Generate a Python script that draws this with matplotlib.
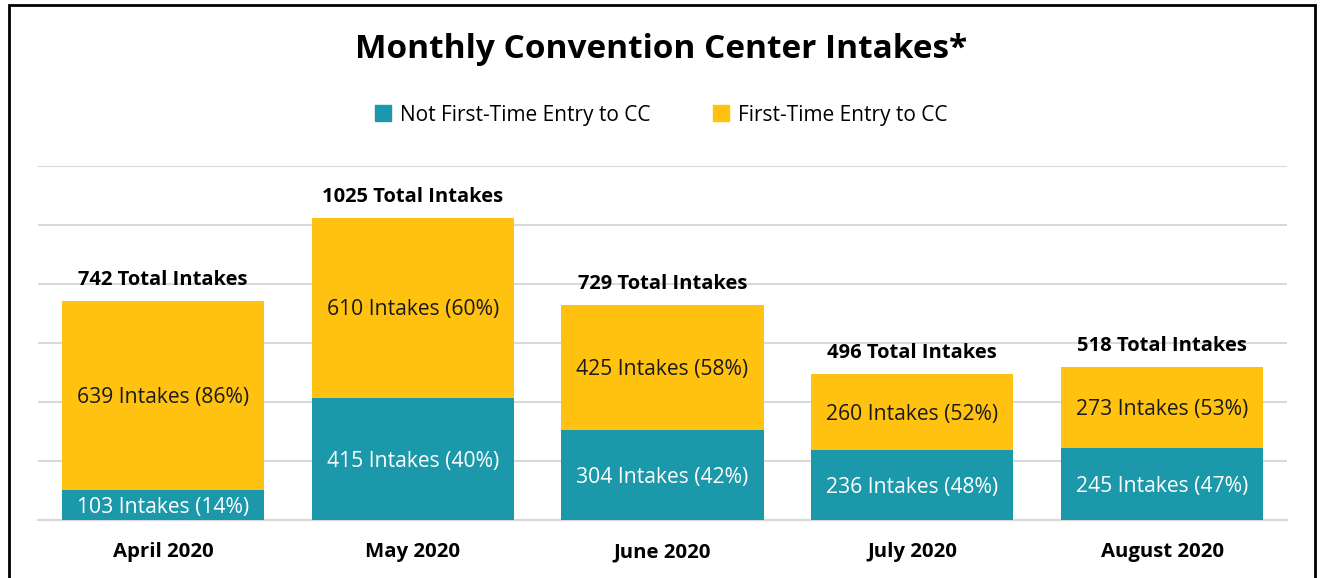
import matplotlib
matplotlib.use('Agg')
import matplotlib.pyplot as plt
from matplotlib.patches import Rectangle, Patch
import numpy as np

plt.rcParams['font.family'] = ['Open Sans', 'DejaVu Sans']

# data
months = ['April 2020', 'May 2020', 'June 2020', 'July 2020', 'August 2020']
not_first = [103, 415, 304, 236, 245]
first_time = [639, 610, 425, 260, 273]
not_first_pct = [14, 40, 42, 48, 47]
first_pct = [86, 60, 58, 52, 53]
totals = [742, 1025, 729, 496, 518]

teal = '#1b98a9'
yellow = '#ffc211'

W, H = 1322, 578
fig = plt.figure(figsize=(W / 100, H / 100), dpi=100)
ax = fig.add_axes([38 / W, 1 - 520 / H, (1287 - 38) / W, (520 - 166) / H])

x = np.arange(len(months))
bw = 0.81
ax.bar(x, not_first, bw, color=teal, zorder=3, label='Not First-Time Entry to CC')
ax.bar(x, first_time, bw, bottom=not_first, color=yellow, zorder=3,
       label='First-Time Entry to CC')

for i in range(len(months)):
    # segment labels, nudged down a touch to sit like the original
    ax.annotate(f'{not_first[i]} Intakes ({not_first_pct[i]}%)',
                (x[i], not_first[i] / 2), xytext=(0, -2), textcoords='offset points',
                ha='center', va='center', color='white', fontsize=15.2, zorder=4)
    ax.annotate(f'{first_time[i]} Intakes ({first_pct[i]}%)',
                (x[i], not_first[i] + first_time[i] / 2), xytext=(0, -1.5),
                textcoords='offset points',
                ha='center', va='center', color='#1a1a1a', fontsize=15.2, zorder=4)
    ax.annotate(f'{totals[i]} Total Intakes', (x[i], totals[i]),
                xytext=(0, 8), textcoords='offset points',
                ha='center', va='bottom', fontsize=14.5, fontweight='bold')

ax.set_xlim(-0.5, len(months) - 0.5)
ax.set_ylim(0, 1200)
ax.set_yticks(np.arange(0, 1201, 200))
ax.yaxis.grid(True, color='#d9d9d9', linewidth=1.5, zorder=0)
ax.tick_params(axis='y', left=False, labelleft=False)
ax.tick_params(axis='x', length=0, pad=16)
ax.set_xticks(x)
ax.set_xticklabels(months, fontsize=14.7, fontweight='bold')
for s in ['top', 'right', 'left']:
    ax.spines[s].set_visible(False)
ax.spines['bottom'].set_color('#d9d9d9')
ax.spines['bottom'].set_linewidth(1.5)

fig.text(0.5, 1 - 50 / H, 'Monthly Convention Center Intakes*', ha='center',
         va='center', fontsize=24, fontweight='bold')

handles = [Patch(color=teal), Patch(color=yellow)]
fig.legend(handles, ['Not First-Time Entry to CC', 'First-Time Entry to CC'],
           loc='center', bbox_to_anchor=(0.5, 1 - 115 / H), ncol=2, frameon=False,
           fontsize=15, handlelength=0.8, handleheight=0.8, columnspacing=3.0,
           handletextpad=0.4)

# outer frame
fig.patches.append(Rectangle((9 / W, -0.05), (1315 - 9) / W, 1.05 - 5 / H,
                             transform=fig.transFigure, fill=False,
                             edgecolor='black', linewidth=2))

fig.savefig('out.png', dpi=100)
